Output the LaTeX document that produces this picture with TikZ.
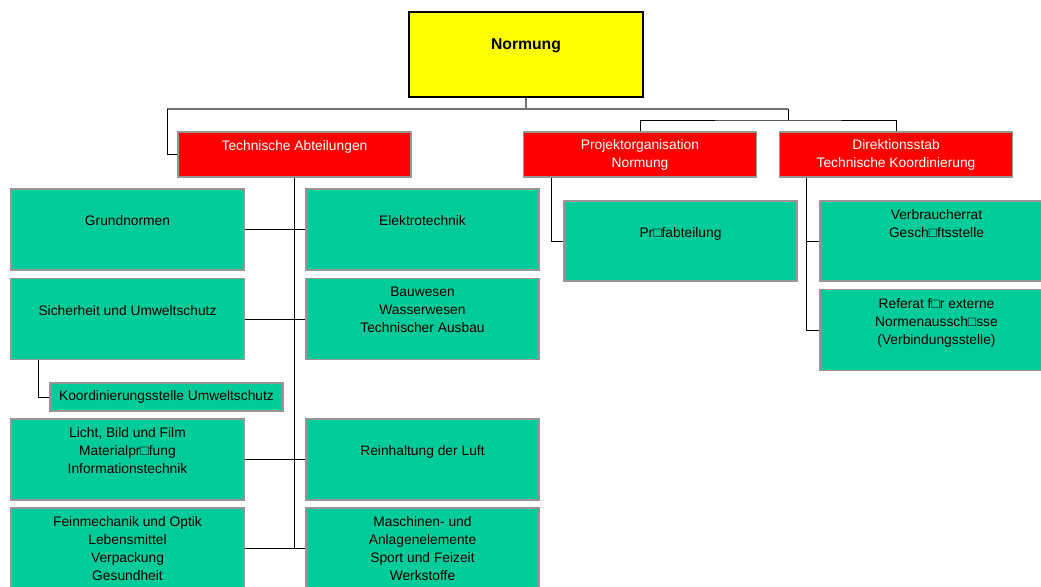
\documentclass[tikz,border=0pt]{standalone}
\usepackage{fontspec}
\setmainfont{Liberation Sans}
\definecolor{normyellow}{RGB}{255,255,0}
\definecolor{abtred}{RGB}{255,0,0}
\definecolor{stellegreen}{RGB}{0,204,153}
\definecolor{framegray}{RGB}{150,150,150}
\definecolor{busgray}{RGB}{115,115,115}
\tikzset{
  unit/.style={draw=framegray, line width=0.9pt, inner sep=0pt, align=center,
    font=\fontsize{10.35pt}{13.5pt}\selectfont},
  headbox/.style={unit, draw=black, line width=1pt, fill=normyellow,
    minimum width=175.5pt, minimum height=63.75pt,
    font=\fontsize{11.8pt}{15pt}\selectfont\bfseries},
  deptbox/.style={unit, fill=abtred, text=white, minimum width=174.75pt, minimum height=33.75pt},
  secbox/.style={unit, fill=stellegreen, minimum width=174.75pt, minimum height=60.75pt},
  link/.style={line width=0.75pt},
  trunk/.style={line width=1pt},
  buslink/.style={draw=busgray, line width=0.9pt}
}
\begin{document}
\begin{tikzpicture}[x=0.75pt,y=-0.75pt]
\useasboundingbox (0,0) rectangle (1041,586);
\clip (0,0) rectangle (1041,586);
% top and department level
\node[headbox] (norm) at (526,54.5) {Normung\\~};
\node[deptbox] (tech) at (294.5,154.5) {Technische Abteilungen\\~};
\node[deptbox] (proj) at (640,154.5) {Projektorganisation\\Normung};
\node[deptbox] (dir) at (896,154.5) {Direktionsstab\\Technische Koordinierung};
\coordinate (busL) at (167,109);
\coordinate (busR) at (788,109);
\coordinate (fork) at (788,120);
\draw[buslink] (norm.south) -- (norm.south |- busL);
\draw[buslink] (busL) -- (busR);
\draw[link] (busL) |- (tech.west);
\draw[link] (busR) -- (fork);
\draw[link] (proj.north) |- (fork) -| (dir.north);
% Technische Abteilungen
\node[secbox] (grund) at (127.5,229.5) {Grundnormen\\~};
\node[secbox] (elek) at (422.5,229.5) {Elektrotechnik\\~};
\node[secbox] (sich) at (127.5,319) {Sicherheit und Umweltschutz\\~};
\node[secbox] (bau) at (422.5,319) {Bauwesen\\Wasserwesen\\Technischer Ausbau\\~};
\node[secbox, minimum height=21pt] (koord) at (166.5,397) {Koordinierungsstelle Umweltschutz};
\node[secbox] (licht) at (127.5,459.5) {Licht, Bild und Film\\Materialpr□fung\\Informationstechnik\\~};
\node[secbox] (rein) at (422.5,459.5) {Reinhaltung der Luft\\~};
\node[secbox] (fein) at (127.5,548.5) {Feinmechanik und Optik\\Lebensmittel\\Verpackung\\Gesundheit};
\node[secbox] (masch) at (422.5,548.5) {Maschinen- und\\Anlagenelemente\\Sport und Feizeit\\Werkstoffe};
\coordinate (techend) at (294.5,548.5);
\draw[trunk] (tech.south) -- (techend);
\draw[link] (grund) -- (elek);
\draw[link] (sich) -- (bau);
\draw[link] (licht) -- (rein);
\draw[link] (fein) -- (masch);
\draw[link] ([xshift=21pt]sich.south west) |- (koord.west);
% Projektorganisation, Direktionsstab
\node[secbox, minimum height=60pt] (pruef) at (680.5,241) {Pr□fabteilung\\~};
\node[secbox, minimum height=60pt] (verb) at (936.5,241) {Verbraucherrat\\Gesch□ftsstelle\\~\\~};
\node[secbox] (ref) at (936.5,330) {Referat f□r externe\\Normenaussch□sse\\(Verbindungsstelle)\\~};
\draw[link] ([xshift=21.75pt]proj.south west) |- (pruef.west);
\draw[link] ([xshift=21pt]dir.south west) |- (verb.west);
\draw[link] ([xshift=21pt]dir.south west) |- (ref.west);
\end{tikzpicture}
\end{document}
